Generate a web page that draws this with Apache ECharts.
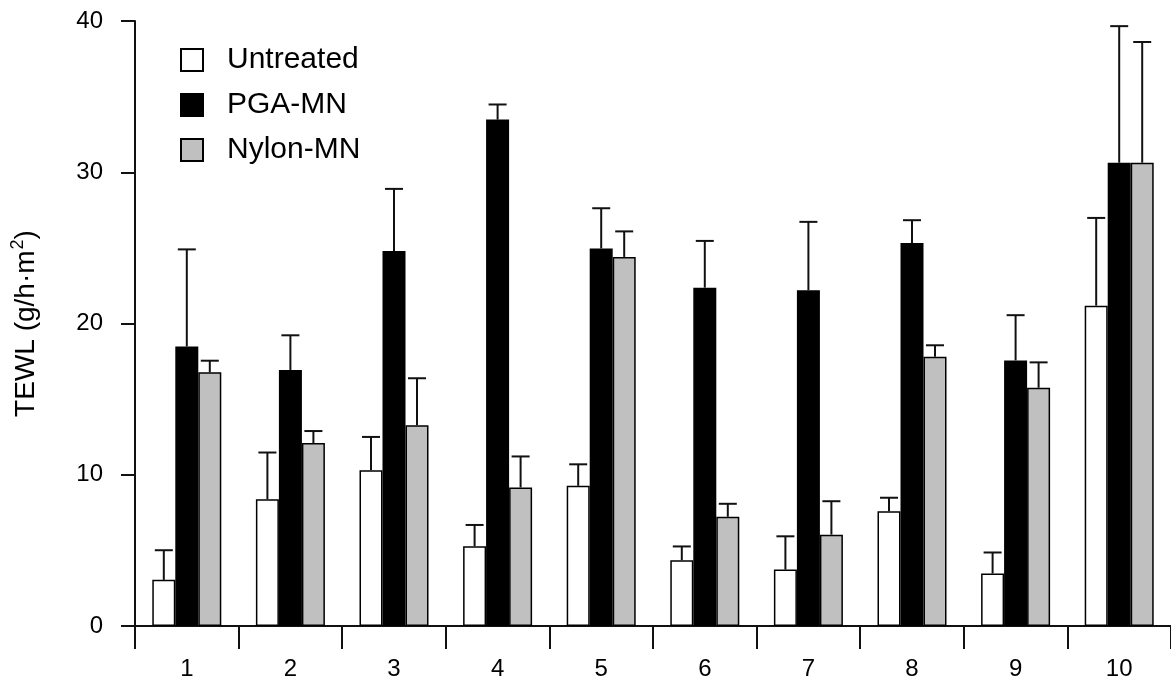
<!DOCTYPE html>
<html>
<head>
<meta charset="utf-8">
<script src="https://cdn.jsdelivr.net/npm/echarts@6/dist/echarts.min.js"></script>
<style>
html,body{margin:0;padding:0;background:#fff;}
#chart{width:1171px;height:681px;}
</style>
</head>
<body>
<div id="chart"></div>
<script>
// ---- data ----
const categories = ['1','2','3','4','5','6','7','8','9','10'];
const seriesNames = ['Untreated','PGA-MN','Nylon-MN'];
const untreated    = [3.05, 8.38, 10.29, 5.28, 9.27, 4.35, 3.73, 7.59, 3.47, 21.18];
const untreatedErr = [1.96, 3.09, 2.21, 1.40, 1.42, 0.91, 2.20, 0.89, 1.39, 5.80];
const pga          = [18.48, 16.93, 24.80, 33.48, 24.96, 22.37, 22.20, 25.33, 17.56, 30.63];
const pgaErr       = [6.42, 2.29, 4.10, 1.00, 2.66, 3.09, 4.52, 1.50, 2.99, 9.03];
const nylon        = [16.77, 12.10, 13.28, 9.16, 24.40, 7.22, 6.04, 17.80, 15.75, 30.63];
const nylonErr     = [0.77, 0.79, 3.10, 2.05, 1.69, 0.86, 2.21, 0.76, 1.68, 7.98];
const yTicks = [0, 10, 20, 30, 40];

const FONT = '"Liberation Sans", Arial, sans-serif';
const BAR_W = 23;
const fills = ['#ffffff', '#000000', '#c0c0c0'];
const means = [untreated, pga, nylon];
const errs = [untreatedErr, pgaErr, nylonErr];

const chart = echarts.init(document.getElementById('chart'), null, {renderer: 'canvas'});

const barSeries = seriesNames.map((name, i) => ({
  name: name,
  type: 'bar',
  data: means[i],
  barWidth: BAR_W,
  barGap: '0%',
  itemStyle: {color: fills[i], borderColor: '#000', borderWidth: 1.5},
  emphasis: {disabled: true},
  z: 2
}));

const errSeries = seriesNames.map((name, i) => ({
  name: name + ' err',
  type: 'custom',
  z: 3,
  silent: true,
  data: means[i].map((m, k) => [k, m, m + errs[i][k]]),
  renderItem: function (params, api) {
    const lo = api.coord([api.value(0), api.value(1)]);
    const hi = api.coord([api.value(0), api.value(2)]);
    const x = lo[0] + (i - 1) * BAR_W;
    const cap = 9;
    const st = {stroke: '#111', lineWidth: 2};
    return {
      type: 'group',
      children: [
        {type: 'line', shape: {x1: x, y1: lo[1], x2: x, y2: hi[1]}, style: st},
        {type: 'line', shape: {x1: x - cap, y1: hi[1], x2: x + cap, y2: hi[1]}, style: st}
      ]
    };
  }
}));

const option = {
  backgroundColor: '#fff',
  animation: false,
  textStyle: {fontFamily: FONT},
  grid: {left: 135, top: 21, bottom: 49, right: -11, containLabel: false},
  legend: {
    orient: 'vertical',
    left: 180,
    top: 45,
    padding: 0,
    itemWidth: 22,
    itemHeight: 22,
    itemGap: 15,
    icon: 'rect',
    data: seriesNames,
    selectedMode: false,
    textStyle: {fontFamily: FONT, fontSize: 30, color: '#000', padding: [0, 0, 0, 19]}
  },
  xAxis: {
    type: 'category',
    data: categories,
    boundaryGap: true,
    axisLine: {lineStyle: {color: '#111', width: 2}},
    axisTick: {show: true, length: 23, interval: 0, lineStyle: {color: '#111', width: 2}},
    axisLabel: {fontFamily: FONT, fontSize: 24, color: '#000', margin: 31, interval: 0},
    splitLine: {show: false}
  },
  yAxis: {
    type: 'value',
    min: yTicks[0],
    max: yTicks[yTicks.length - 1],
    interval: 10,
    name: '{a|TEWL (g/h·m}{s|2}{a|)}',
    nameLocation: 'middle',
    nameGap: 92,
    nameRotate: 90,
    nameTextStyle: {
      color: '#000',
      fontFamily: FONT,
      rich: {
        a: {fontSize: 28, fontFamily: FONT, color: '#000', lineHeight: 34},
        s: {fontSize: 18, fontFamily: FONT, color: '#000', verticalAlign: 'top', lineHeight: 34, padding: [0, 0, 0, 1]}
      }
    },
    axisLine: {show: true, lineStyle: {color: '#111', width: 2}},
    axisTick: {show: true, length: 14, lineStyle: {color: '#111', width: 2}},
    axisLabel: {fontFamily: FONT, fontSize: 24, color: '#000', margin: 32},
    splitLine: {show: false}
  },
  series: barSeries.concat(errSeries)
};

chart.setOption(option);
</script>
</body>
</html>
